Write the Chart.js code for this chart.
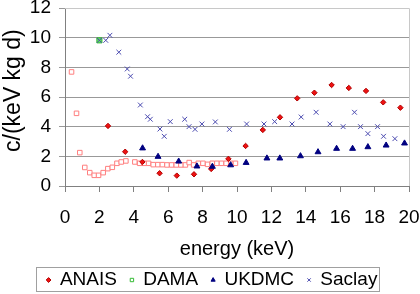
<!DOCTYPE html>
<html>
<head>
<meta charset="utf-8">
<script src="https://cdn.jsdelivr.net/npm/chart.js"></script>
<style>
  html, body { margin: 0; padding: 0; background: #fff; }
  #wrap { width: 420px; height: 294px; }
</style>
</head>
<body>
<div id="wrap"><canvas id="myChart1" width="420" height="294"></canvas></div>
<script>
const FONT = "'Liberation Sans', Arial, sans-serif";

// ANAIS
const anaisX = [2.5, 3.5, 4.5, 5.5, 6.5, 7.5, 8.5, 9.5, 10.5, 11.5, 12.5, 13.5, 14.5, 15.5, 16.5, 17.5, 18.5, 19.5];
const anaisY = [4.05, 2.31, 1.62, 0.86, 0.70, 0.79, 1.15, 1.83, 2.70, 3.78, 4.63, 5.91, 6.29, 6.81, 6.61, 6.41, 5.64, 5.28];

// DAMA (legend entry, single green point)
const damaX = [2.0];
const damaY = [9.82];

// low energy squares (no legend entry)
const lowX = [0.38, 0.67, 0.86, 1.15, 1.44, 1.70, 1.95, 2.22, 2.49, 2.75, 3.02, 3.27, 3.54,
  4.06, 4.34, 4.61, 4.86, 5.13, 5.40, 5.66, 5.93, 6.20, 6.47, 6.74, 7.00, 7.22, 7.48, 7.75,
  8.02, 8.29, 8.56, 8.83, 9.10, 9.37, 9.64, 9.91];
const lowY = [7.69, 4.90, 2.25, 1.25, 0.90, 0.72, 0.72, 0.90, 1.17, 1.26, 1.53, 1.62, 1.69,
  1.62, 1.53, 1.53, 1.53, 1.44, 1.44, 1.44, 1.42, 1.42, 1.42, 1.42, 1.42, 1.58, 1.42, 1.53,
  1.53, 1.46, 1.53, 1.53, 1.53, 1.53, 1.53, 1.53];

// UKDMC
const ukdmcX = [4.51, 5.41, 6.61, 7.67, 8.57, 9.63, 10.53, 11.74, 12.49, 13.69, 14.71, 15.79, 16.72, 17.61, 18.67, 19.74];
const ukdmcY = [2.55, 1.98, 1.66, 1.33, 1.31, 1.41, 1.57, 1.87, 1.87, 2.02, 2.29, 2.52, 2.52, 2.63, 2.74, 2.88];

// Saclay
const saclayX = [2.0, 2.37, 2.61, 3.13, 3.62, 3.81, 4.38, 4.80, 4.96, 5.52, 5.77, 6.12, 6.96, 7.21, 7.56, 7.96,
  8.74, 9.56, 10.56, 11.57, 12.19, 13.2, 13.73, 14.6, 15.4, 16.17, 16.83, 17.18, 17.61, 18.17, 18.52, 19.18];
const saclayY = [9.82, 9.82, 10.16, 9.02, 7.89, 7.40, 5.46, 4.67, 4.50, 3.84, 3.35, 4.34, 4.50, 4.00, 3.82, 4.18,
  4.32, 3.82, 4.18, 4.18, 4.34, 4.18, 4.65, 4.97, 4.18, 4.00, 4.97, 4.00, 3.53, 4.00, 3.35, 3.19];

const xTicks = [0, 2, 4, 6, 8, 10, 12, 14, 16, 18, 20];
const yTicks = [0, 2, 4, 6, 8, 10, 12];
const legendOrder = ['ANAIS', 'DAMA', 'UKDMC', 'Saclay'];

function pts(xs, ys) {
  return xs.map((x, i) => ({ x: x, y: ys[i] }));
}

// border of plot area + boxed legend drawn by hand (Excel style)
const frame = {
  id: 'frame',
  afterDraw(chart) {
    const ctx = chart.ctx;
    const a = chart.chartArea;
    ctx.save();
    ctx.strokeStyle = '#c8c8c8';
    ctx.lineWidth = 1;
    ctx.beginPath();
    ctx.moveTo(a.left, a.top + 0.5);
    ctx.lineTo(a.right + 0.5, a.top + 0.5);
    ctx.lineTo(a.right + 0.5, a.bottom);
    ctx.stroke();

    // legend
    const items = legendOrder.map(n => chart.data.datasets.find(d => d.label === n));
    ctx.font = '19px ' + FONT;
    ctx.textBaseline = 'middle';
    const gap = 15, off = 11.3;
    let total = 0;
    items.forEach((d, i) => {
      total += off + ctx.measureText(d.label).width + (i ? gap : 0);
    });
    let x = 207 - total / 2 + 6;
    const yMid = 280;
    const left = x - 12.5;
    items.forEach(d => {
      ctx.fillStyle = d.legendFill;
      ctx.strokeStyle = d.borderColor;
      ctx.lineWidth = 1;
      Chart.helpers.drawPoint(ctx, { pointStyle: d.pointStyle, radius: 2.4, rotation: 0, borderWidth: 1 }, x, yMid);
      ctx.fillStyle = '#000';
      ctx.fillText(d.label, x + off, yMid);
      x += off + ctx.measureText(d.label).width + gap;
    });
    const right = x - gap + 1.5;
    ctx.strokeStyle = '#a0a0a0';
    ctx.strokeRect(Math.round(left) + 0.5, 267.5, Math.round(right - left), 24);
    ctx.restore();
  }
};

document.addEventListener("DOMContentLoaded", function() {
  const ctx = document.getElementById('myChart1').getContext('2d');

  const data = {
    datasets: [
      {
        label: 'Saclay',
        data: pts(saclayX, saclayY),
        pointStyle: 'crossRot',
        radius: 3.4,
        borderWidth: 1,
        borderColor: '#4b4bb0',
        backgroundColor: '#4b4bb0',
        legendFill: '#4b4bb0'
      },
      {
        label: 'UKDMC',
        data: pts(ukdmcX, ukdmcY),
        pointStyle: 'triangle',
        radius: 3.4,
        borderWidth: 1,
        borderColor: '#000080',
        backgroundColor: '#000080',
        legendFill: '#000080'
      },
      {
        label: 'DAMA',
        data: pts(damaX, damaY),
        pointStyle: 'rect',
        radius: 3.6,
        borderWidth: 1,
        borderColor: '#33bb33',
        backgroundColor: '#66dd66',
        legendFill: '#ffffff'
      },
      {
        label: 'ANAIS',
        data: pts(anaisX, anaisY),
        pointStyle: 'rectRot',
        radius: 2.7,
        borderWidth: 1,
        borderColor: '#b00000',
        backgroundColor: '#ee1111',
        legendFill: '#ee1111'
      },
      {
        label: 'low',
        data: pts(lowX, lowY),
        pointStyle: 'rect',
        radius: 3.2,
        borderWidth: 1,
        borderColor: '#ff7f7f',
        backgroundColor: '#ffffff'
      }
    ]
  };

  const options = {
    responsive: false,
    animation: false,
    events: [],
    layout: { padding: { top: 8, right: 11, bottom: 0, left: 0 } },
    plugins: {
      legend: { display: false },
      tooltip: { enabled: false }
    },
    scales: {
      x: {
        type: 'linear',
        min: 0,
        max: 20,
        afterBuildTicks: s => { s.ticks = xTicks.map(v => ({ value: v })); },
        afterFit: s => { s.height = 108; s.paddingLeft = 0; s.paddingRight = 0; },
        ticks: {
          color: '#000',
          font: { family: FONT, size: 19 },
          padding: 14,
          maxRotation: 0
        },
        grid: { drawOnChartArea: false, drawTicks: true, tickLength: 6, color: '#808080' },
        border: { color: '#808080' },
        title: {
          display: true,
          text: 'energy (keV)',
          color: '#000',
          font: { family: FONT, size: 20, lineHeight: 1 },
          padding: { top: 0, bottom: 35 }
        }
      },
      y: {
        min: 0,
        max: 12,
        afterBuildTicks: s => { s.ticks = yTicks.map(v => ({ value: v })); },
        afterFit: s => { s.width = 65; s.paddingTop = 0; s.paddingBottom = 0; },
        ticks: {
          color: '#000',
          font: { family: FONT, size: 19 },
          padding: 8
        },
        grid: { color: '#999999', tickLength: 6 },
        border: { color: '#808080' },
        title: {
          display: true,
          text: '  c/(keV kg d)',
          color: '#000',
          font: { family: FONT, size: 23, lineHeight: 1 },
          padding: { top: 2, bottom: 0 }
        }
      }
    }
  };

  new Chart(ctx, {
    type: 'scatter',
    data: data,
    options: options,
    plugins: [frame]
  });
});
</script>
</body>
</html>
